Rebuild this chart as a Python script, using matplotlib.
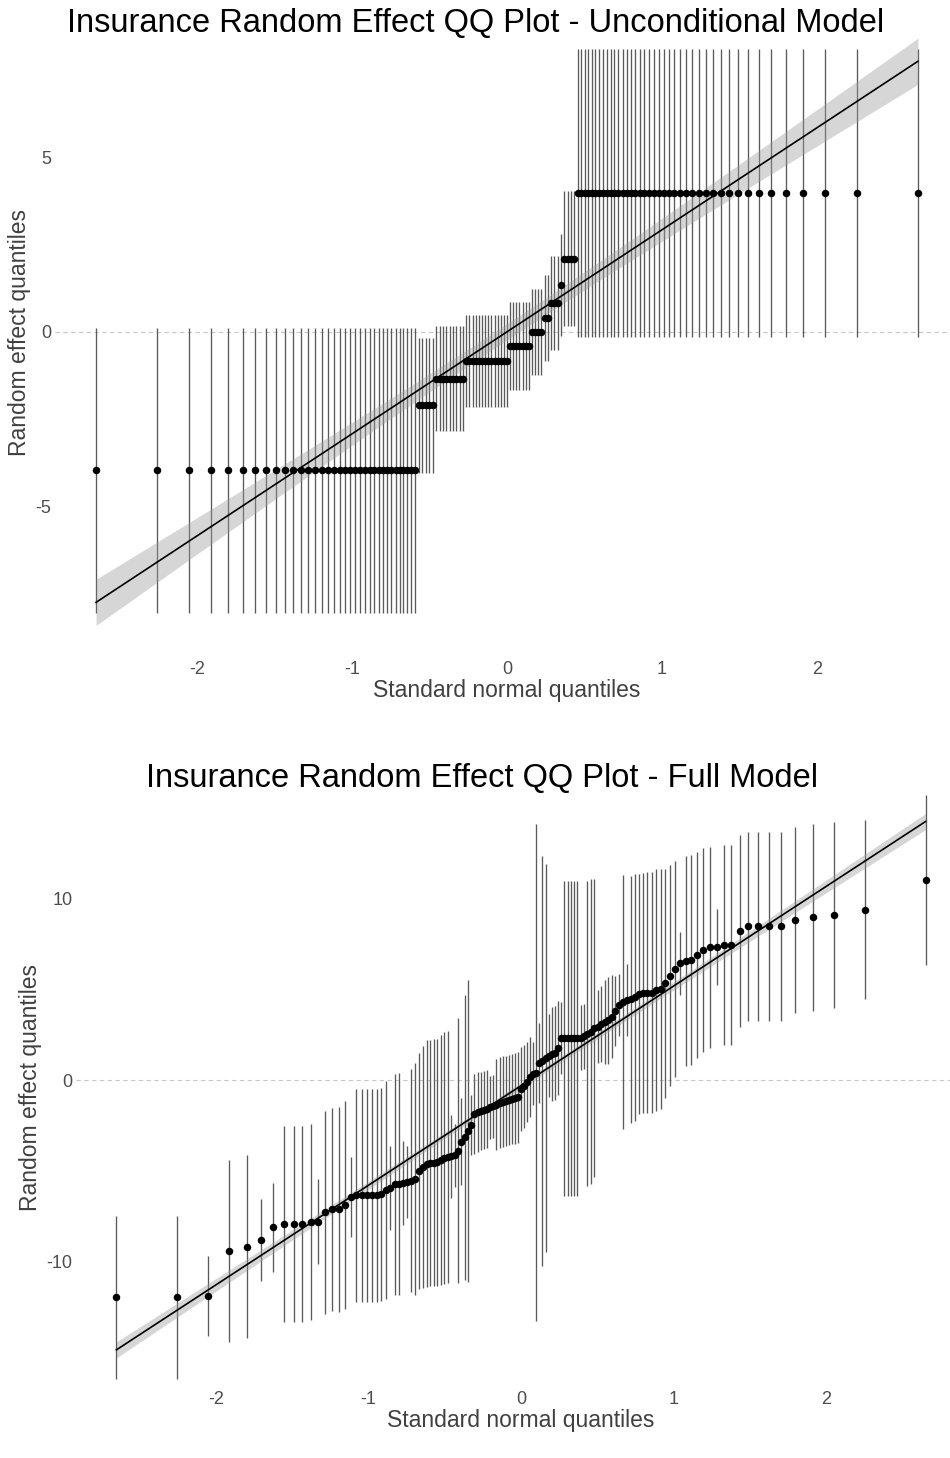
import matplotlib
matplotlib.use('Agg')
import matplotlib.pyplot as plt
import numpy as np
from statistics import NormalDist

plt.rcParams['font.family'] = ['Liberation Sans', 'DejaVu Sans']
plt.rcParams['axes.unicode_minus'] = False

# ── Unconditional model: conditional modes (sorted) and interval half-widths ──
uncond_levels = [-3.95, -2.09, -1.33, -0.83, -0.40, 0.00, 0.40, 0.83, 1.34, 2.09, 3.97]
uncond_counts = [35, 5, 9, 14, 7, 4, 2, 3, 1, 4, 41]
uncond_halfw  = [4.07, 1.93, 1.50, 1.31, 1.26, 1.23, 1.24, 1.34, 1.45, 1.93, 4.12]

# ── Full model: conditional modes (sorted) and interval half-widths ──────────
full_vals = [
    -11.97, -11.97, -11.88, -9.42, -9.18, -8.82, -8.12, -7.93, -7.93, -7.93,
    -7.80, -7.80, -7.29, -7.12, -7.12, -6.89, -6.43, -6.34, -6.34, -6.34,
    -6.34, -6.34, -6.30, -6.05, -5.95, -5.75, -5.72, -5.68, -5.62, -5.55,
    -5.45, -5.00, -4.80, -4.62, -4.57, -4.55, -4.52, -4.40, -4.30, -4.25,
    -4.20, -4.15, -3.90, -3.40, -3.15, -2.80, -2.50, -1.85, -1.78, -1.72,
    -1.65, -1.58, -1.50, -1.45, -1.35, -1.25, -1.20, -1.15, -1.10, -1.05,
    -1.00, -0.95, -0.50, -0.35, -0.10, 0.15, 0.35, 0.40, 0.95, 1.05,
    1.20, 1.35, 1.45, 1.50, 1.75, 2.31, 2.31, 2.31, 2.31, 2.31,
    2.31, 2.33, 2.40, 2.55, 2.65, 2.85, 2.95, 3.10, 3.20, 3.30,
    3.50, 3.80, 4.15, 4.30, 4.40, 4.45, 4.55, 4.75, 4.78, 4.81,
    4.81, 4.96, 5.01, 5.33, 5.75, 6.12, 6.43, 6.56, 6.61, 6.89,
    7.16, 7.31, 7.34, 7.44, 7.44, 8.21, 8.48, 8.48, 8.48, 8.48,
    8.82, 8.96, 9.09, 9.37, 11.02,
]
full_halfw = [
    4.50, 4.50, 2.20, 5.00, 5.05, 2.26, 2.43, 5.40, 5.40, 5.40,
    5.40, 2.33, 5.58, 5.60, 5.65, 5.73, 2.20, 5.87, 5.87, 5.87,
    5.87, 5.87, 5.87, 6.00, 2.30, 6.10, 6.10, 2.30, 2.00, 6.15,
    6.40, 6.50, 6.65, 6.80, 6.80, 6.80, 6.80, 6.90, 6.95, 6.95,
    2.30, 1.75, 7.30, 2.40, 7.85, 8.30, 1.65, 2.20, 2.20, 2.15,
    2.15, 2.15, 1.75, 1.75, 2.50, 2.50, 2.50, 2.50, 2.50, 2.50,
    2.50, 2.50, 2.30, 2.30, 2.20, 2.20, 1.75, 13.70, 2.20, 11.30,
    10.70, 2.30, 2.60, 2.60, 2.60, 2.00, 8.67, 8.67, 8.67, 8.67,
    8.67, 1.80, 1.80, 8.40, 8.40, 8.20, 2.00, 2.10, 2.30, 2.40,
    2.30, 1.95, 1.70, 7.00, 2.00, 6.80, 6.80, 6.60, 6.60, 6.65,
    6.65, 6.65, 6.60, 6.30, 6.10, 5.95, 1.75, 5.80, 5.80, 5.70,
    5.60, 5.55, 2.10, 5.50, 5.50, 5.30, 5.20, 5.20, 5.20, 5.20,
    5.10, 5.14, 5.10, 4.93, 4.68,
]

W, H = 950, 1458
fig = plt.figure(figsize=(W / 100, H / 100), dpi=100, facecolor='white')


def panel(left, top, right, bottom):
    return fig.add_axes([left / W, 1 - bottom / H, (right - left) / W, (bottom - top) / H])


def normal_quantiles(n):
    nd = NormalDist()
    return np.array([nd.inv_cdf((i - 0.5) / n) for i in range(1, n + 1)])


def qq_panel(ax, y, hw, ylim, yticks):
    y = np.asarray(y, dtype=float)
    hw = np.asarray(hw, dtype=float)
    x = normal_quantiles(len(y))

    ax.axhline(0, color='#c8c8c8', lw=0.8, ls=(0, (4, 3)), zorder=0)
    ax.vlines(x, y - hw, y + hw, color='#5a5a5a', lw=0.95, zorder=1)

    # linear fit with 95% confidence ribbon
    n = len(x)
    b, a = np.polyfit(x, y, 1)
    resid = y - (a + b * x)
    s = np.sqrt(np.sum(resid ** 2) / (n - 2))
    sxx = np.sum((x - x.mean()) ** 2)
    xs = np.linspace(x.min(), x.max(), 80)
    fit = a + b * xs
    se = s * np.sqrt(1 / n + (xs - x.mean()) ** 2 / sxx)
    ax.fill_between(xs, fit - 1.979 * se, fit + 1.979 * se,
                    color='#999999', alpha=0.4, lw=0, zorder=2)
    ax.plot(xs, fit, color='black', lw=1.2, zorder=3)

    ax.plot(x, y, 'o', color='black', ms=5.4, mec='none', zorder=4)

    ax.set_xlim(-2.917, 2.917)
    ax.set_ylim(*ylim)
    ax.set_xticks([-2, -1, 0, 1, 2])
    ax.set_yticks(yticks)
    for sp in ax.spines.values():
        sp.set_visible(False)
    ax.tick_params(length=0, labelsize=13, labelcolor='#4d4d4d')
    ax.tick_params(axis='x', pad=4)
    ax.tick_params(axis='y', pad=2.5)
    ax.set_xlabel('Standard normal quantiles', fontsize=16.5, color='#404040', labelpad=1)
    ax.set_ylabel('Random effect quantiles', fontsize=16.5, color='#404040', labelpad=3)
    ax.set_facecolor('none')


# Top: unconditional model
ax1 = panel(55, 9, 959, 655)
top_y = np.repeat(uncond_levels, uncond_counts)
top_hw = np.repeat(uncond_halfw, uncond_counts)
qq_panel(ax1, top_y, top_hw, (-9.23, 9.23), [-5, 0, 5])
fig.text(476 / W, 1 - 23 / H, 'Insurance Random Effect QQ Plot - Unconditional Model',
         ha='center', va='center', fontsize=23.5, color='black')

# Bottom: full model
ax2 = panel(76, 790, 966, 1385)
qq_panel(ax2, full_vals, full_halfw, (-16.8, 15.98), [-10, 0, 10])
fig.text(482 / W, 1 - 778 / H, 'Insurance Random Effect QQ Plot - Full Model',
         ha='center', va='center', fontsize=23.5, color='black')

fig.savefig('out.png', dpi=100, facecolor='white')
